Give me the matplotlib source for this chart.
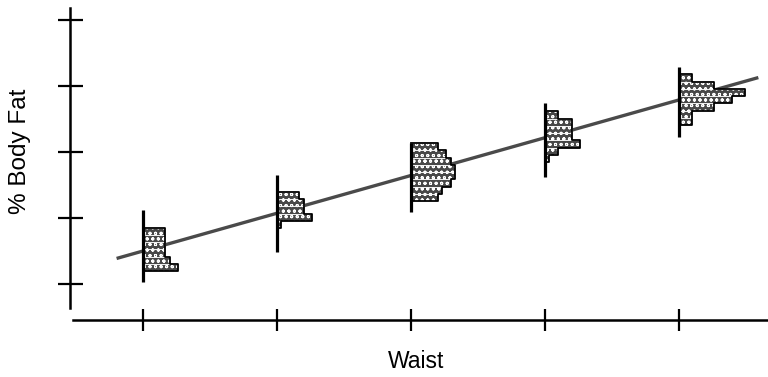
import matplotlib
matplotlib.use("Agg")
import matplotlib.pyplot as plt
import numpy as np

plt.rcParams['font.family'] = ['Liberation Sans', 'DejaVu Sans']
plt.rcParams['hatch.linewidth'] = 0.7

# ---- data ----
waist_ticks = [30, 32, 34, 36, 38]
fat_ticks = [10, 20, 30, 40, 50]

# regression line
line_x = [29.63, 39.16]
line_y = [13.88, 41.15]

# histograms at each waist tick: counts from bottom bin to top bin
hist_x = [30, 32, 34, 36, 38]
hist_counts = [
    [8, 6, 5, 5, 5, 5],
    [1, 8, 6, 6, 5],
    [6, 7, 9, 10, 10, 9, 8, 6],
    [1, 3, 8, 6, 6, 6, 3],
    [3, 3, 8, 12, 15, 8, 3],
]
hist_bottom = [11.9, 18.4, 22.5, 28.4, 34.0]
bin_height = 1.1
count_scale = 0.066  # waist units per count
stem_low = [10.24, 14.79, 20.85, 26.15, 32.2]
stem_high = [21.15, 26.45, 31.3, 37.36, 42.8]

# ---- figure ----
fig = plt.figure(figsize=(7.68, 3.77), dpi=100)
ax = fig.add_axes([0, 0, 1, 1])
ax.set_xlim(27.866, 39.328)
ax.set_ylim(-4.15, 52.97)
ax.patch.set_alpha(0)

# histograms
for xc, counts, bottom, lo, hi in zip(hist_x, hist_counts, hist_bottom, stem_low, stem_high):
    counts = np.array(counts, dtype=float)
    ys = bottom + np.arange(len(counts)) * bin_height
    widths = counts * count_scale
    ax.barh(ys, widths, height=bin_height, left=xc, align='edge',
            color='#484848', hatch='ooo', edgecolor='white', linewidth=0.6, zorder=2)
    # outer silhouette
    px = [xc]
    py = [bottom]
    for y0, w in zip(ys, widths):
        px += [xc + w, xc + w]
        py += [y0, y0 + bin_height]
    px += [xc]
    py += [ys[-1] + bin_height]
    ax.plot(px, py, color='black', lw=1.3, zorder=3)
    ax.plot([xc, xc], [lo, hi], color='black', lw=2.3, solid_capstyle='butt', zorder=4)

# regression line
ax.plot(line_x, line_y, color='#4a4a4a', lw=2.4, zorder=1.5)

# axes
for s in ['top', 'right']:
    ax.spines[s].set_visible(False)
ax.spines['left'].set_position(('data', 28.91))
ax.spines['left'].set_bounds(6.3, 51.76)
ax.spines['bottom'].set_position(('data', 4.48))
ax.spines['bottom'].set_bounds(28.955, 39.33)
for s in ['left', 'bottom']:
    ax.spines[s].set_linewidth(1.8)
ax.set_xticks(waist_ticks)
ax.set_yticks(fat_ticks)
ax.set_xticklabels([])
ax.set_yticklabels([])
ax.tick_params(axis='y', direction='inout', length=18, width=1.6)
ax.tick_params(axis='x', direction='inout', length=16, width=1.6)

fig.text(20 / 768, 1 - 151 / 377, '% Body Fat', rotation=90, ha='center', va='center', fontsize=17.5)
fig.text(416 / 768, 1 - 362 / 377, 'Waist', ha='center', va='center', fontsize=16.5)

fig.savefig('out.png', dpi=100)
